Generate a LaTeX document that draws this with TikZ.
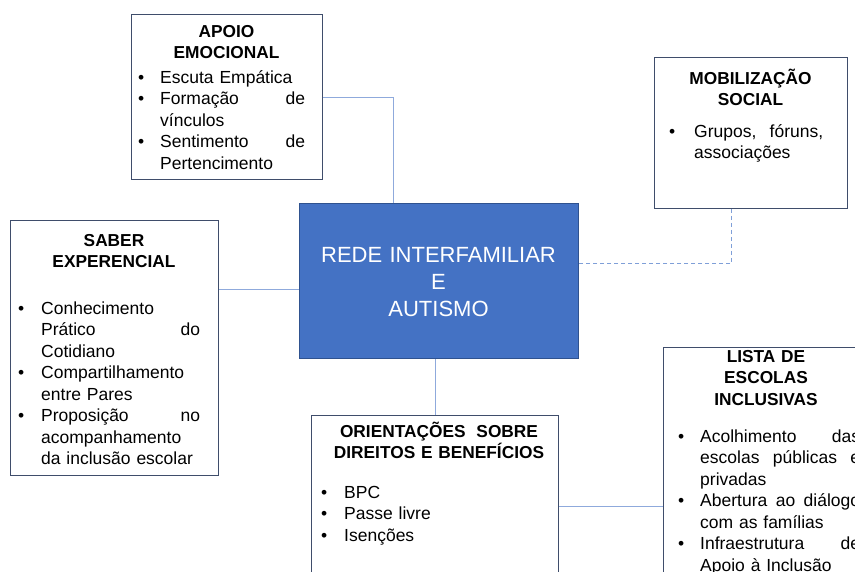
\documentclass[tikz,border=0pt]{standalone}
\usepackage{fontspec}
\setmainfont{Liberation Sans}
\usetikzlibrary{calc}
\definecolor{boxline}{HTML}{3F4D6B}
\definecolor{connc}{HTML}{8FAADC}
\definecolor{dashc}{HTML}{7F9FD8}
\definecolor{cfill}{HTML}{4472C4}
\definecolor{cline}{HTML}{2F528F}
\newcommand{\bu}[1][22pt]{\makebox[#1][l]{•}\ignorespaces}
\newcommand{\ct}[1][22pt]{\hspace*{#1}\ignorespaces}
\begin{document}
\begin{tikzpicture}[x=1pt,y=-1pt,
 boxnode/.style={draw=boxline, line width=0.9pt, fill=white, inner sep=0pt, anchor=north west},
 body/.style={font=\fontsize{17.5}{21.5}\selectfont, inner sep=0pt, align=left, anchor=base west},
 head/.style={font=\bfseries\fontsize{17.3}{21.5}\selectfont, inner sep=0pt, align=center, anchor=base},
 connline/.style={draw=connc, line width=0.9pt}]
\useasboundingbox (0,0) rectangle (855,571);
\clip (0,0) rectangle (855,571);
\fill[white] (0,0) rectangle (855,571);
% boxes
\node[boxnode, minimum width=191pt, minimum height=165pt] (apoio) at (131,14) {};
\node[boxnode, minimum width=193pt, minimum height=151pt] (mob) at (654,57) {};
\node[boxnode, minimum width=208pt, minimum height=255pt] (saber) at (10,220) {};
\node[boxnode, fill=cfill, draw=cline, minimum width=279pt, minimum height=155pt] (center) at (299,203) {};
\node[boxnode, minimum width=247pt, minimum height=182pt] (orient) at (311,415) {};
\node[boxnode, minimum width=240pt, minimum height=318pt] (lista) at (663,347) {};
% connectors
\draw[connline] (apoio.east) -| ([xshift=94pt]center.north west);
\draw[connline, draw=dashc, line width=1.1pt, dash pattern=on 4pt off 3pt] ([xshift=-19.5pt]mob.south) |- ([yshift=17.5pt]center.east);
\draw[connline] ([yshift=58.5pt]saber.east) -- ([yshift=58.5pt]saber.east -| center.west);
\draw[connline] (orient.north) -- (orient.north |- center.south);
\draw[connline] (orient.east) -- (lista.west);
% central text
\node[inner sep=0pt, anchor=base, text width=270pt, align=center, text=white, font=\fontsize{22}{27}\selectfont] (centertxt) at (438.5,262) {REDE INTERFAMILIAR\\E\\AUTISMO};
% apoio
\node[head, text width=180pt] (apoiohd) at (226.5,37) {APOIO\\EMOCIONAL};
\node[body, text width=167pt] (apoiotx) at (138,83) {\bu Escuta Empática\\
\bu Formação\hfill de\\
\ct vínculos\\
\bu Sentimento\hfill de\\
\ct Pertencimento};
% mobilizacao
\node[head, text width=185pt] (mobhd) at (750.5,84) {MOBILIZAÇÃO\\SOCIAL};
\node[body, text width=154pt] (mobtx) at (669,137) {\bu[25pt]Grupos,\hfill fóruns,\\
\ct[25pt]associações};
% saber
\node[head, text width=200pt] (saberhd) at (114,246) {SABER\\EXPERENCIAL};
\node[body, text width=182pt] (sabertx) at (18,314) {\bu[23pt]Conhecimento\\
\ct[23pt]Prático\hfill do\\
\ct[23pt]Cotidiano\\
\bu[23pt]Compartilhamento\\
\ct[23pt]entre Pares\\
\bu[23pt]Proposição\hfill no\\
\ct[23pt]acompanhamento\\
\ct[23pt]da inclusão escolar};
% orientacoes
\node[head, text width=240pt] (orienthd) at (439,437) {\makebox[198pt]{ORIENTAÇÕES\hfill SOBRE}\\DIREITOS E BENEFÍCIOS};
\node[body, text width=200pt] (orienttx) at (321,498) {\bu[23pt]BPC\\
\bu[23pt]Passe livre\\
\bu[23pt]Isenções};
% lista
\node[head, text width=180pt] (listahd) at (766,362) {LISTA DE\\ESCOLAS\\INCLUSIVAS};
\node[body, text width=182pt] (listatx) at (678,442) {\bu Acolhimento\hfill das\\
\ct escolas\hfill públicas\hfill e\\
\ct privadas\\
\bu Abertura\hfill ao\hfill diálogo\\
\ct com as famílias\\
\bu Infraestrutura\hfill de\\
\ct Apoio à Inclusão};
\end{tikzpicture}
\end{document}
